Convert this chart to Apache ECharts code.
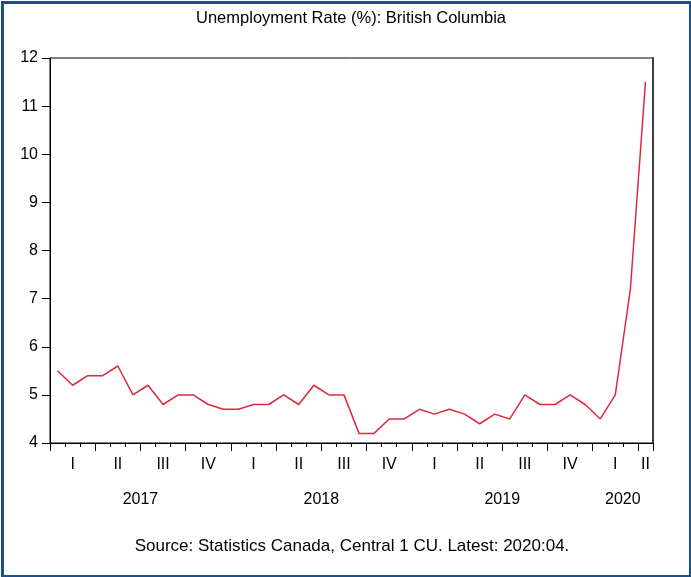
<!DOCTYPE html>
<html><head><meta charset="utf-8">
<script src="https://cdn.jsdelivr.net/npm/echarts@6/dist/echarts.min.js"></script>
<style>html,body{margin:0;padding:0;background:#fff}#c{width:691px;height:577px}</style>
</head><body><div id="c"></div>
<script>
const months = [
  '2017:01','2017:02','2017:03','2017:04','2017:05','2017:06','2017:07','2017:08','2017:09','2017:10','2017:11','2017:12',
  '2018:01','2018:02','2018:03','2018:04','2018:05','2018:06','2018:07','2018:08','2018:09','2018:10','2018:11','2018:12',
  '2019:01','2019:02','2019:03','2019:04','2019:05','2019:06','2019:07','2019:08','2019:09','2019:10','2019:11','2019:12',
  '2020:01','2020:02','2020:03','2020:04'
];
const rates = [
  5.5,5.2,5.4,5.4,5.6,5.0,5.2,4.8,5.0,5.0,4.8,4.7,
  4.7,4.8,4.8,5.0,4.8,5.2,5.0,5.0,4.2,4.2,4.5,4.5,
  4.7,4.6,4.7,4.6,4.4,4.6,4.5,5.0,4.8,4.8,5.0,4.8,
  4.5,5.0,7.2,11.5
];
const quarterNames = ['I','II','III','IV'];
const yTicks = [4,5,6,7,8,9,10,11,12];
const titleText = 'Unemployment Rate (%): British Columbia';
const sourceText = 'Source: Statistics Canada, Central 1 CU. Latest: 2020:04.';

// derive quarter & year groupings from the month categories
const qGroups = {}, yGroups = {};
months.forEach((m, i) => {
  const y = m.slice(0, 4), mo = +m.slice(5);
  const q = Math.floor((mo - 1) / 3);
  const qk = y + 'Q' + q;
  (qGroups[qk] = qGroups[qk] || { q, idx: [] }).idx.push(i);
  (yGroups[y] = yGroups[y] || []).push(i);
});
const qLabelAt = {};
Object.values(qGroups).forEach(g => {
  const mid = Math.floor((g.idx[0] + g.idx[g.idx.length - 1]) / 2);
  qLabelAt[mid] = quarterNames[g.q];
});
const yLabelAt = {};
Object.keys(yGroups).forEach(y => {
  const g = yGroups[y];
  yLabelAt[(g[0] + g[g.length - 1] + 1) / 2] = y;
});
const isQuarterStart = i => (+months[i].slice(5) - 1) % 3 === 0;

const font = 'Liberation Sans, Arial, sans-serif';
const chart = echarts.init(document.getElementById('c'));
chart.setOption({
  animation: false,
  backgroundColor: '#fff',
  textStyle: { fontFamily: font },
  graphic: [
    { type: 'rect', left: 0, top: 0, z: 100, silent: true,
      shape: { x: 1.5, y: 1.5, width: 688, height: 574 },
      style: { fill: 'none', stroke: '#1d4f8e', lineWidth: 3 } },
    { type: 'text', x: 351, y: 18, silent: true,
      style: { text: titleText, textAlign: 'center', textVerticalAlign: 'middle',
        fontSize: 16.5, fontFamily: font, fill: '#000' } },
    { type: 'text', x: 352, y: 546, silent: true,
      style: { text: sourceText, textAlign: 'center', textVerticalAlign: 'middle',
        fontSize: 17, fontFamily: font, fill: '#000' } }
  ],
  grid: { left: 50, right: 38, top: 58, bottom: 134, show: true, borderColor: '#000', borderWidth: 1 },
  xAxis: [
    { type: 'category', data: months, boundaryGap: true, position: 'bottom',
      axisLine: { show: true, lineStyle: { color: '#000', width: 1 } },
      axisTick: { show: true, interval: 0, length: 4, lineStyle: { color: '#000' } },
      axisLabel: { interval: (i) => qLabelAt[i] !== undefined, formatter: (v, i) => qLabelAt[i] || '',
        margin: 14, fontSize: 16, color: '#000', fontFamily: font },
      splitLine: { show: false } },
    { type: 'category', data: months, boundaryGap: true, position: 'bottom',
      axisLine: { show: false },
      axisTick: { show: true, interval: (i) => isQuarterStart(i), length: 8, lineStyle: { color: '#000' } },
      axisLabel: { show: false }, splitLine: { show: false } },
    { type: 'value', min: 0, max: months.length, interval: 0.5, position: 'bottom',
      axisLine: { show: false }, axisTick: { show: false }, splitLine: { show: false },
      axisLabel: { formatter: v => yLabelAt[v] || '', margin: 49, fontSize: 16, color: '#000',
        fontFamily: font, showMinLabel: true, showMaxLabel: true } }
  ],
  yAxis: [
    { type: 'value', min: yTicks[0], max: yTicks[yTicks.length - 1], interval: 1,
      axisLine: { show: true, lineStyle: { color: '#000', width: 1 } },
      axisTick: { show: true, length: 8, lineStyle: { color: '#000' } },
      axisLabel: { margin: 12, fontSize: 16, color: '#000', fontFamily: font },
      splitLine: { show: false } },
    { type: 'value', min: yTicks[0], max: yTicks[yTicks.length - 1], interval: 1, position: 'right',
      axisLine: { show: true, lineStyle: { color: '#3c3c3c', width: 2 } },
      axisTick: { show: false }, axisLabel: { show: false }, splitLine: { show: false } }
  ],
  series: [{
    type: 'line', data: rates, xAxisIndex: 0, yAxisIndex: 0,
    symbol: 'none', lineStyle: { color: '#e0283c', width: 1.5 }
  }]
});
</script></body></html>
